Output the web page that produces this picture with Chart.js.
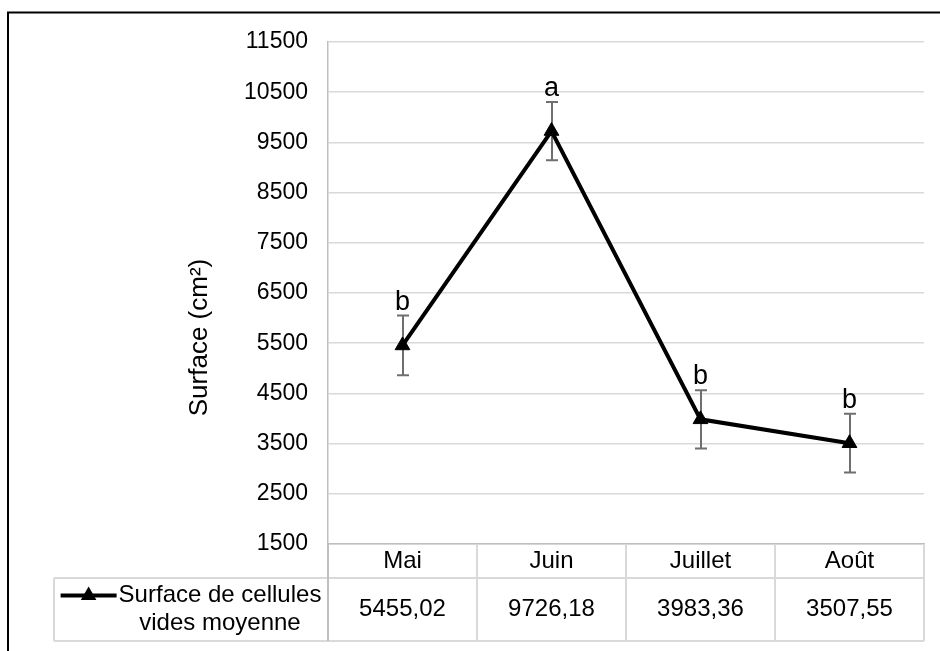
<!DOCTYPE html>
<html>
<head>
<meta charset="utf-8">
<script src="https://cdn.jsdelivr.net/npm/chart.js@4.4.0/dist/chart.umd.min.js"></script>
<style>
  body { margin: 0; background: #fff; }
  #wrap { width: 940px; height: 651px; }
</style>
</head>
<body>
<div id="wrap"><canvas id="myChart" width="940" height="651"></canvas></div>
<script>
// DONNEES
var mois = ['Mai', 'Juin', 'Juillet', 'Août'];
var surface = [5455.02, 9726.18, 3983.36, 3507.55];
var erreur = [595, 580, 580, 585];
var lettres = ['b', 'a', 'b', 'b'];
var yMin = 1500, yMax = 11500, yPas = 1000;
var nomSerie = ['Surface de cellules', 'vides moyenne'];
var titreY = 'Surface (cm²)';

var police = "'Liberation Sans', Arial, sans-serif";
Chart.defaults.font.family = police;
Chart.defaults.color = '#000';

function valeurTexte(v){
    return v.toFixed(2).replace('.', ',');
}

// fond + cadre noir
var cadre = {
    id: 'cadre',
    beforeDraw: function(chart){
        var ctx = chart.ctx;
        ctx.save();
        ctx.fillStyle = '#fff';
        ctx.fillRect(0, 0, chart.width, chart.height);
        ctx.strokeStyle = '#000';
        ctx.lineWidth = 2;
        ctx.strokeRect(8, 12.5, 1200, 1200);
        ctx.restore();
    }
};

// barres d'erreur
var barresErreur = {
    id: 'barresErreur',
    beforeDatasetsDraw: function(chart){
        var ctx = chart.ctx, x = chart.scales.x, y = chart.scales.y;
        ctx.save();
        ctx.strokeStyle = '#6f6f6f';
        ctx.lineWidth = 2;
        for (var i = 0; i < surface.length; i++){
            var px = Math.round(x.getPixelForValue(i));
            var haut = y.getPixelForValue(surface[i] + erreur[i]);
            var bas = y.getPixelForValue(surface[i] - erreur[i]);
            ctx.beginPath();
            ctx.moveTo(px, haut); ctx.lineTo(px, bas);
            ctx.moveTo(px - 6, haut); ctx.lineTo(px + 6, haut);
            ctx.moveTo(px - 6, bas); ctx.lineTo(px + 6, bas);
            ctx.stroke();
        }
        ctx.restore();
    }
};

// lettres de significativite
var lettresPlugin = {
    id: 'lettres',
    afterDatasetsDraw: function(chart){
        var ctx = chart.ctx, x = chart.scales.x, y = chart.scales.y;
        ctx.save();
        ctx.font = '27px ' + police;
        ctx.fillStyle = '#000';
        ctx.textAlign = 'center';
        ctx.textBaseline = 'alphabetic';
        for (var i = 0; i < lettres.length; i++){
            ctx.fillText(lettres[i], x.getPixelForValue(i), y.getPixelForValue(surface[i] + erreur[i]) - 6);
        }
        ctx.restore();
    }
};

// tableau de donnees sous le graphique
var tableau = {
    id: 'tableau',
    afterDraw: function(chart){
        var ctx = chart.ctx, x = chart.scales.x, area = chart.chartArea;
        var demi = (x.getPixelForValue(1) - x.getPixelForValue(0)) / 2;
        var h0 = area.bottom, h1 = area.bottom + 34, h2 = area.bottom + 97;
        var gauche = 54;
        ctx.save();

        ctx.strokeStyle = '#d9d9d9';
        ctx.lineWidth = 2;
        ctx.beginPath();
        ctx.moveTo(gauche, h1); ctx.lineTo(area.right, h1);
        ctx.moveTo(gauche, h2); ctx.lineTo(area.right, h2);
        ctx.moveTo(gauche, h1); ctx.lineTo(gauche, h2);
        for (var i = 0; i < mois.length; i++){
            var bord = x.getPixelForValue(i) + demi;
            ctx.moveTo(bord, h0); ctx.lineTo(bord, h2);
        }
        ctx.stroke();
        ctx.strokeStyle = '#bfbfbf';
        ctx.beginPath();
        ctx.moveTo(area.left, h0); ctx.lineTo(area.left, h2);
        ctx.stroke();

        ctx.fillStyle = '#000';
        ctx.font = '24px ' + police;
        ctx.textAlign = 'center';
        ctx.textBaseline = 'middle';
        for (var j = 0; j < mois.length; j++){
            var cx = x.getPixelForValue(j);
            ctx.fillText(mois[j], cx, (h0 + h1) / 2);
            ctx.fillText(valeurTexte(surface[j]), cx, (h1 + h2) / 2);
        }

        // cellule legende
        var w1 = ctx.measureText(nomSerie[0]).width;
        var bloc = 58 + w1;
        var debut = (gauche + area.left) / 2 - bloc / 2;
        var ligneY = (h1 + h2) / 2 - 14;
        var centreTexte = debut + 58 + w1 / 2;
        ctx.fillText(nomSerie[0], centreTexte, ligneY);
        ctx.fillText(nomSerie[1], centreTexte, ligneY + 28);

        ctx.strokeStyle = '#000';
        ctx.lineWidth = 4;
        ctx.beginPath();
        ctx.moveTo(debut, ligneY); ctx.lineTo(debut + 56, ligneY);
        ctx.stroke();
        var tx = debut + 28, r = 9;
        ctx.beginPath();
        ctx.moveTo(tx, ligneY - r);
        ctx.lineTo(tx + r * 0.866, ligneY + r / 2);
        ctx.lineTo(tx - r * 0.866, ligneY + r / 2);
        ctx.closePath();
        ctx.fill();

        // titre axe Y
        ctx.font = '26px ' + police;
        ctx.translate(200, (area.top + h2) / 2 - 4);
        ctx.rotate(-Math.PI / 2);
        ctx.fillText(titreY, 0, 0);
        ctx.restore();
    }
};

var ctx = document.getElementById('myChart').getContext('2d');
var myChart = new Chart(ctx, {
    type: 'line',
    data: {
        labels: mois,
        datasets: [{
            label: nomSerie.join(' '),
            data: surface,
            borderColor: '#000',
            borderWidth: 4,
            tension: 0,
            pointStyle: 'triangle',
            pointRadius: 8.5,
            pointBorderWidth: 1,
            pointBackgroundColor: '#000',
            pointBorderColor: '#000'
        }]
    },
    options: {
        responsive: false,
        animation: false,
        layout: { padding: { left: 180, right: 16, top: 42, bottom: 107 } },
        plugins: {
            legend: { display: false },
            tooltip: { enabled: false }
        },
        scales: {
            x: {
                offset: true,
                grid: { display: false },
                border: { display: true, color: '#bfbfbf', width: 1.5 },
                ticks: { display: false },
                afterFit: function(scale){ scale.height = 0; }
            },
            y: {
                min: yMin,
                max: yMax,
                ticks: {
                    stepSize: yPas,
                    padding: 20,
                    font: { size: 23 },
                    color: '#000',
                    callback: function(v){ return String(v); }
                },
                grid: { color: '#d9d9d9', lineWidth: 1.5, drawTicks: false },
                border: { display: true, color: '#bfbfbf', width: 1.5 },
                afterFit: function(scale){ scale.width = 148; }
            }
        }
    },
    plugins: [cadre, barresErreur, lettresPlugin, tableau]
});
</script>
</body>
</html>
